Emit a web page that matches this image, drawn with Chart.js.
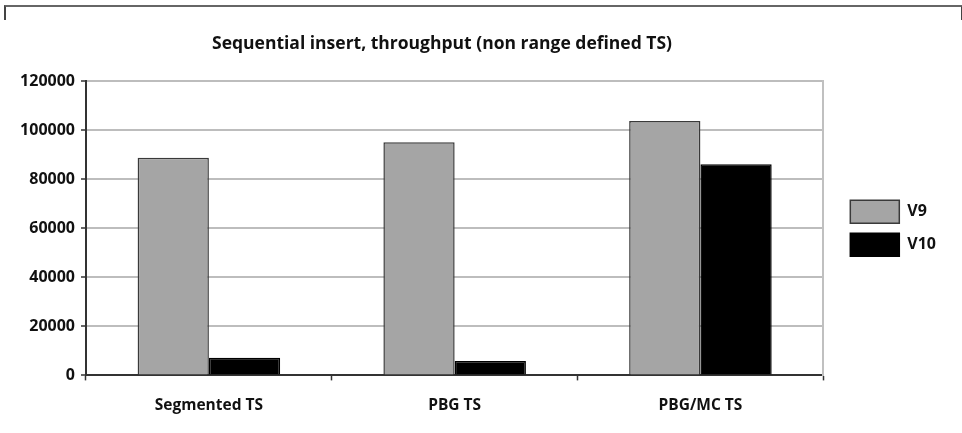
<!DOCTYPE html>
<html>
<head>
<meta charset="utf-8">
<script src="https://cdn.jsdelivr.net/npm/chart.js@4"></script>
<style>
  html, body { margin: 0; padding: 0; background: #fff; }
  #wrap { position: relative; width: 962px; height: 433px; }
  #frame { position: absolute; left: 4px; top: 5px; width: 955px; height: 13px;
           border-top: 2px solid #666; border-left: 2px solid #444; border-right: 2px solid #444; }
  canvas { position: absolute; left: 0; top: 0; }
</style>
</head>
<body>
<div id="wrap">
  <div id="frame"></div>
  <canvas id="throughputChart" width="962" height="433"></canvas>
</div>
<script>
const categories = ['Segmented TS', 'PBG TS', 'PBG/MC TS'];
const v9Values = [88700, 95000, 103700];
const v10Values = [7200, 5900, 86100];
const yTicks = [0, 20000, 40000, 60000, 80000, 100000, 120000];
const chartTitle = 'Sequential insert, throughput (non range defined TS)';

const FONT = '"Open Sans", sans-serif';

// title drawn by hand so it can sit slightly left of centre like the original
const titlePlugin = {
  id: 'titleText',
  afterDraw(chart) {
    const ctx = chart.ctx;
    ctx.save();
    ctx.font = 'bold 17.5px ' + FONT;
    ctx.fillStyle = '#111';
    ctx.textAlign = 'center';
    ctx.textBaseline = 'middle';
    ctx.fillText(chartTitle, 442, 44);
    ctx.restore();
  }
};

const ctx = document.getElementById('throughputChart');
new Chart(ctx, {
  type: 'bar',
  data: {
    labels: categories,
    datasets: [{
      label: 'V9',
      data: v9Values,
      backgroundColor: '#a5a5a5',
      borderColor: '#3a3a3a',
      borderWidth: 1.5,
      borderSkipped: 'bottom'
    }, {
      label: 'V10',
      data: v10Values,
      backgroundColor: '#000000',
      borderColor: '#000000',
      borderWidth: 1.5,
      borderSkipped: 'bottom'
    }]
  },
  options: {
    responsive: false,
    animation: false,
    categoryPercentage: 0.58,
    barPercentage: 1.0,
    layout: {
      padding: { top: 81, right: 16, left: 0, bottom: 2 }
    },
    plugins: {
      title: { display: false },
      tooltip: { enabled: false },
      legend: {
        position: 'right',
        fullSize: false,
        labels: {
          boxWidth: 49,
          boxHeight: 23,
          padding: 10,
          color: '#111',
          font: { size: 16, weight: 'bold', family: FONT }
        }
      }
    },
    scales: {
      x: {
        offset: true,
        grid: {
          offset: true,
          drawOnChartArea: false,
          drawTicks: true,
          tickLength: 5,
          tickColor: '#333',
          tickWidth: 1.5
        },
        border: { color: '#333', width: 2 },
        ticks: {
          color: '#111',
          padding: 16,
          font: { size: 15.5, weight: 'bold', family: FONT }
        }
      },
      y: {
        min: 0,
        max: 120000,
        afterBuildTicks(axis) {
          axis.ticks = yTicks.map(v => ({ value: v }));
        },
        afterFit(axis) {
          axis.width = 86;
        },
        grid: {
          color: '#bdbdbd',
          lineWidth: 2,
          tickLength: 5,
          tickColor: '#333',
          tickWidth: 1.5
        },
        border: { color: '#333', width: 2 },
        ticks: {
          color: '#111',
          padding: 6,
          font: { size: 16, weight: 'bold', family: FONT },
          callback: v => String(v)
        }
      },
      // empty right axis: draws the light grey right edge and leaves a gap before the legend
      yRight: {
        position: 'right',
        min: 0,
        max: 120000,
        afterFit(axis) {
          axis.width = 17;
        },
        grid: { drawOnChartArea: false, drawTicks: false },
        border: { color: '#c0c0c0', width: 2 },
        ticks: { display: false }
      }
    }
  },
  plugins: [titlePlugin]
});
</script>
</body>
</html>
